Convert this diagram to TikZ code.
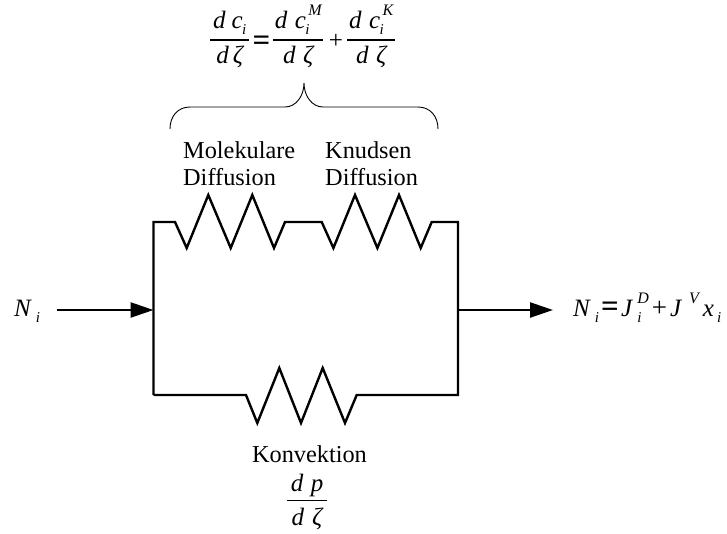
\documentclass[tikz,border=0pt]{standalone}
\usepackage{fontspec}
\setmainfont{Liberation Serif}
\usetikzlibrary{arrows.meta}
\tikzset{
  wire/.style={line width=2.4pt,line join=miter},
  flow/.style={wire,-{Triangle[length=23pt,width=15pt]}},
  brc/.style={line width=0.9pt},
  fbar/.style={line width=1.3pt},
  lbl/.style={font=\fontsize{24.3}{27}\selectfont,anchor=base west,inner sep=0pt},
  frm/.style={font=\fontsize{25}{29}\selectfont\itshape,anchor=base,inner sep=0pt}
}
\newcommand{\sbi}{\raisebox{-6pt}{\fontsize{15}{15}\selectfont\textit{i}}}
\newcommand{\spr}[1]{\raisebox{13pt}{\fontsize{16}{16}\selectfont\textit{#1}}}
\newcommand{\bigeq}{{\fontsize{31}{31}\selectfont\upshape\bfseries =}}
\newcommand{\bigpl}{{\fontsize{27}{27}\selectfont\upshape +}}
\newcommand{\dzt}[1]{d\kern#1 ζ}
\newcommand{\dci}[2]{d\kern#1 c\kern-0.5pt\rlap{\sbi}\kern3pt\spr{#2}}
% name, x, num line, bar, denom line, half width, num, denom
\newcommand{\fracn}[8]{%
  \node[frm] (#1n) at (#2,#3) {#7};
  \node[frm] (#1d) at (#2,#5) {#8};
  \draw[fbar] (#2-#6,#4)--(#2+#6,#4);}
\newcommand{\topres}{-- ++(11.7,26) -- ++(21.6,-53) -- ++(22.4,53) -- ++(21.6,-53) -- ++(21.7,53) -- ++(11,-26)}
\begin{document}
\begin{tikzpicture}[x=1pt,y=-1pt]
\useasboundingbox (0,0) rectangle (727,533);
% junctions
\coordinate (jl) at (153.5,310);
\coordinate (jr) at (458,310);
\coordinate (tl) at (153.5,222);
\coordinate (tr) at (458,222);
\coordinate (bl) at (153.5,395);
\coordinate (br) at (458,395);
\coordinate (inl) at (56.5,310);
\coordinate (outr) at (553,310);
% network
\draw[wire] (bl) -- (tl) -- (175,222) \topres -- (321.7,222) \topres -- (tr) -- (br)
  -- (356.7,395) -- ++(-11.7,28) -- ++(-22.3,-55) -- ++(-21.7,55) -- ++(-21.7,-55) -- ++(-22,55) -- ++(-11.3,-28) -- (bl);
\draw[flow] (inl) -- (jl);
\draw[flow] (jr) -- (outr);
% brace
\draw[brc] (170,129) .. controls (170,116) and (178,107) .. (190,107) -- (285,107)
  .. controls (296,107) and (304,96) .. (304,83) .. controls (304,96) and (312,107) .. (323,107)
  -- (418,107) .. controls (430,107) and (438,116) .. (438,129);
% labels
\node[lbl] (mol) at (183,158) {Molekulare};
\node[lbl] (moldiff) at (183,185) {Diffusion};
\node[lbl] (knu) at (325,158) {Knudsen};
\node[lbl] (knudiff) at (325,185) {Diffusion};
\node[lbl,anchor=base] (konv) at (309.5,462.7) {Konvektion};
% formulas
\fracn{fa}{229.7}{28.3}{40}{63.3}{19.7}{d\kern6pt c\kern-0.5pt\sbi}{\dzt{4pt}}
\node[frm] (eqa) at (261.5,50) {\bigeq};
\fracn{fb}{298.3}{28.3}{40}{63.3}{25}{\dci{7.5pt}{M}}{\dzt{7.5pt}}
\node[frm] (pl) at (336,48) {\upshape +};
\fracn{fc}{371.2}{28.3}{40}{63.3}{24}{\dci{7.5pt}{K}}{\dzt{7.5pt}}
\node[lbl,font=\fontsize{25}{29}\selectfont\itshape] (ni) at (14,316) {N\kern5pt\sbi};
\node[lbl,font=\fontsize{25}{29}\selectfont\itshape] (nout) at (573,316) {N\kern5pt\sbi\kern2pt\bigeq\kern2.5pt J\kern5pt\rlap{\sbi}\spr{D}\kern3pt\bigpl\kern3pt J\kern8pt\spr{V}\kern4pt x\kern3pt\sbi};
\fracn{fd}{307}{491.7}{500.7}{525.7}{20}{d\kern7.5pt p}{\dzt{8pt}}
\end{tikzpicture}
\end{document}
